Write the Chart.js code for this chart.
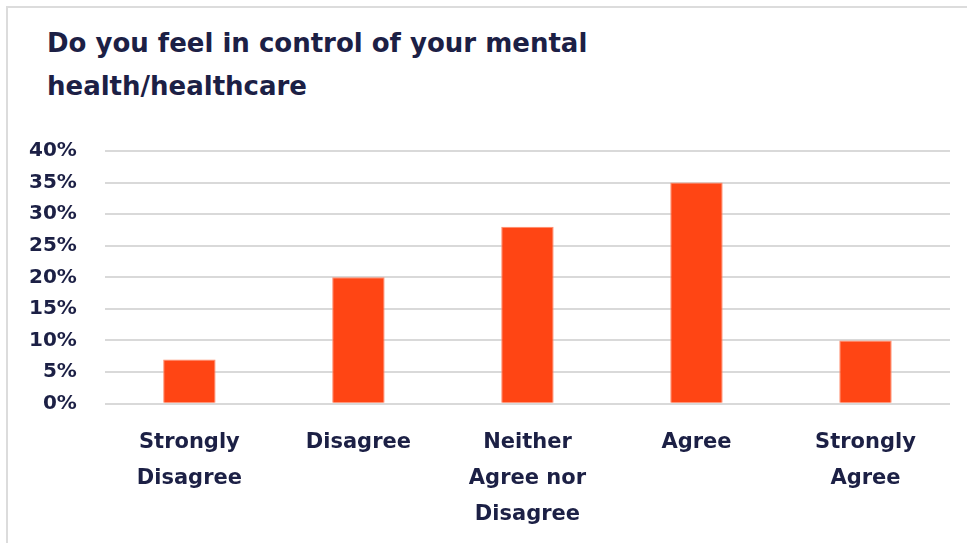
<!DOCTYPE html>
<html>
<head>
<meta charset="utf-8">
<script src="https://cdn.jsdelivr.net/npm/chart.js@4.4.1/dist/chart.umd.min.js"></script>
<style>
  html, body { margin: 0; padding: 0; background: #fff; }
  body { width: 967px; height: 543px; position: relative; overflow: hidden; }
  .frame {
    position: absolute; left: 6px; top: 6px; right: 0; bottom: 0;
    border-top: 2px solid #dcdcdc; border-left: 2px solid #dcdcdc;
  }
  .title {
    position: absolute; left: 47px; top: 22px;
    font-family: "DejaVu Sans", sans-serif; font-weight: 700;
    font-size: 26px; line-height: 43px; color: #1c2045;
  }
  #wrap { position: absolute; left: 0; top: 0; width: 967px; height: 543px; }
</style>
</head>
<body>
<div class="frame"></div>
<div class="title">Do you feel in control of your mental<br>health/healthcare</div>
<div id="wrap"><canvas id="surveyChart"></canvas></div>
<script>
// Jawaban survei dan persentase responden
const categories = [
    ['Strongly', 'Disagree'],
    ['Disagree'],
    ['Neither', 'Agree nor', 'Disagree'],
    ['Agree'],
    ['Strongly', 'Agree']
];
const percentages = [7, 20, 28, 35, 10];
const yTicks = [0, 5, 10, 15, 20, 25, 30, 35, 40];

const ink = '#1c2045';
const fontFamily = '"DejaVu Sans", sans-serif';

document.addEventListener('DOMContentLoaded', () => {
    const ctx = document.getElementById('surveyChart').getContext('2d');
    new Chart(ctx, {
        type: 'bar',
        data: {
            labels: categories,
            datasets: [{
                data: percentages,
                backgroundColor: '#ff4514',
                borderColor: '#ff8a6a',
                borderWidth: 1,
                categoryPercentage: 1,
                barPercentage: 0.31
            }]
        },
        options: {
            responsive: true,
            maintainAspectRatio: false,
            animation: false,
            layout: { padding: { top: 151, right: 17, left: 1, bottom: -3 } },
            plugins: {
                legend: { display: false },
                tooltip: { enabled: false }
            },
            scales: {
                x: {
                    grid: { display: false },
                    border: { display: false },
                    ticks: {
                        color: ink,
                        padding: 13,
                        maxRotation: 0,
                        autoSkip: false,
                        font: { family: fontFamily, size: 21, weight: '700', lineHeight: 1.72 }
                    }
                },
                y: {
                    min: 0,
                    max: 40,
                    afterBuildTicks: axis => { axis.ticks = yTicks.map(v => ({ value: v })); },
                    grid: { color: '#d9d9d9', lineWidth: 2, drawTicks: false },
                    border: { display: false },
                    ticks: {
                        color: ink,
                        padding: 28,
                        callback: v => v + '%',
                        font: { family: fontFamily, size: 20, weight: '700' }
                    }
                }
            }
        }
    });
});
</script>
</body>
</html>
